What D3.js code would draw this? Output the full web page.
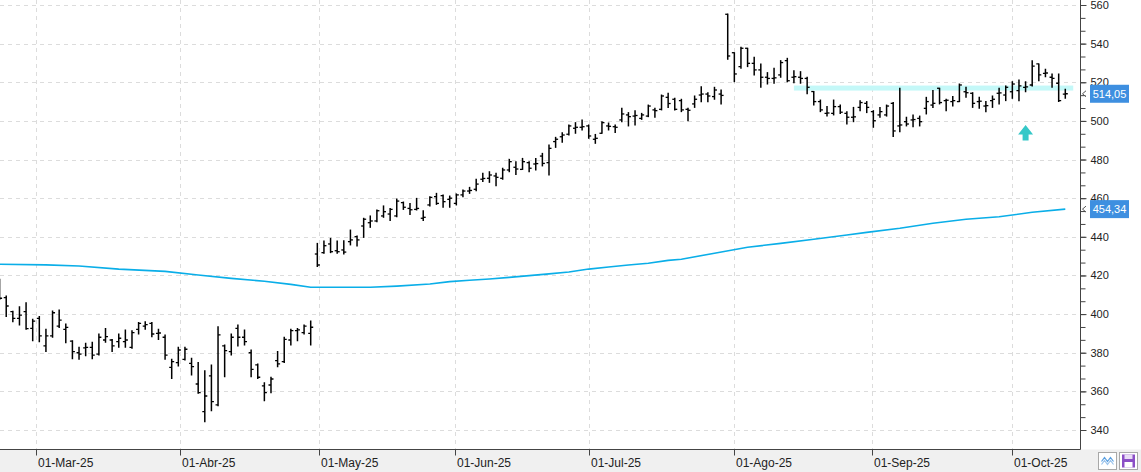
<!DOCTYPE html>
<html>
<head>
<meta charset="utf-8">
<script src="https://cdn.jsdelivr.net/npm/d3@7"></script>
<style>
  body { margin: 0; background: #fff; }
  svg { display: block; font-family: 'Liberation Sans', Arial, sans-serif; }
</style>
</head>
<body>
<svg width="1141" height="472"></svg>
<script>
/* global d3 */
// daily bars, 21-Feb-25 .. 13-Oct-25 (one entry per trading session)
var open = [
  416.0, 408.5, 401.3, 397.8, 401.3, 392.6, 397.8, 383.5, 388.7, 393.8,
  392.1, 386.0, 380.0, 382.5, 382.8, 379.3, 386.6, 386.6, 385.7, 385.7,
  382.8, 392.1, 393.8, 395.2, 390.0, 388.0, 372.4, 374.9, 376.6, 374.5,
  363.8, 349.5, 368.0, 353.0, 383.5, 380.6, 392.6, 388.0, 380.0, 373.7,
  362.8, 363.3, 375.9, 375.4, 386.6, 391.4, 390.4, 390.0, 431.1, 431.8,
  436.3, 432.8, 433.2, 437.5, 440.1, 445.6, 447.3, 448.2, 450.8, 451.8,
  450.8, 457.7, 454.7, 454.2, 449.6, 456.5, 460.8, 461.3, 459.4, 457.3,
  461.7, 463.7, 464.6, 469.8, 470.3, 471.5, 470.3, 474.6, 476.0, 474.9,
  478.4, 477.7, 481.8, 478.4, 489.3, 491.8, 493.1, 496.2, 496.7, 497.4,
  490.5, 493.6, 497.4, 497.0, 500.5, 503.1, 502.5, 501.3, 502.5, 505.7,
  506.0, 512.2, 511.2, 510.5, 506.0, 508.8, 513.4, 513.9, 512.6, 513.9,
  555.2, 535.3, 528.1, 537.6, 529.8, 526.4, 522.6, 522.0, 523.8, 531.2,
  522.6, 522.6, 522.0, 515.2, 510.0, 503.9, 503.9, 507.4, 503.9, 501.9,
  507.0, 509.1, 504.8, 503.1, 503.1, 509.1, 497.4, 499.6, 500.5, 501.3,
  506.5, 508.2, 516.9, 510.5, 510.0, 510.0, 515.1, 514.3, 510.0, 507.7,
  510.5, 514.3, 513.4, 515.1, 515.7, 517.4, 518.6, 529.5, 524.6, 522.6,
  519.5, 513.9
]
var high = [
  418.0, 409.4, 401.5, 403.8, 405.9, 397.3, 398.7, 392.1, 401.6, 402.1,
  394.9, 386.2, 382.8, 384.9, 385.4, 389.7, 392.6, 386.9, 389.7, 391.8,
  391.4, 395.6, 396.1, 395.6, 392.1, 389.2, 376.6, 382.8, 382.8, 377.1,
  374.9, 370.7, 373.7, 393.5, 384.0, 389.7, 394.4, 391.8, 381.4, 374.2,
  364.5, 367.3, 380.6, 388.0, 392.1, 392.6, 394.4, 396.4, 436.6, 437.8,
  439.2, 437.8, 438.0, 443.5, 440.4, 449.6, 450.8, 453.9, 456.0, 454.7,
  459.6, 458.0, 457.3, 459.9, 453.5, 460.8, 462.5, 461.7, 461.1, 462.2,
  464.2, 465.6, 469.8, 472.9, 473.7, 472.9, 475.5, 480.1, 478.9, 480.6,
  478.9, 480.6, 483.2, 487.5, 491.5, 493.9, 497.9, 499.1, 500.5, 497.9,
  493.0, 499.6, 498.9, 497.9, 506.5, 504.3, 505.3, 503.9, 508.2, 506.5,
  513.4, 514.3, 511.7, 511.2, 506.5, 512.9, 517.7, 514.6, 517.4, 516.0,
  555.3, 535.3, 538.1, 537.6, 532.9, 529.5, 525.0, 527.2, 531.2, 532.4,
  526.0, 525.5, 522.6, 515.2, 510.8, 507.4, 510.8, 508.2, 504.8, 507.0,
  510.5, 510.0, 505.3, 507.0, 508.2, 509.5, 516.9, 501.9, 503.1, 502.5,
  512.2, 515.7, 516.9, 511.2, 512.6, 519.1, 517.4, 514.6, 512.2, 510.0,
  512.9, 516.9, 518.1, 520.3, 521.2, 520.3, 531.2, 529.5, 526.7, 524.3,
  524.3, 516.4
]
var low = [
  407.6, 398.7, 396.1, 394.4, 392.1, 386.2, 385.7, 380.6, 388.0, 393.1,
  385.2, 376.9, 376.6, 378.5, 376.9, 378.8, 385.4, 380.6, 382.8, 382.8,
  382.3, 389.7, 392.1, 388.3, 386.9, 376.6, 366.7, 373.1, 376.2, 368.5,
  359.0, 344.3, 350.0, 352.6, 367.6, 378.8, 383.5, 384.0, 367.6, 366.7,
  355.2, 359.3, 372.8, 374.9, 384.0, 386.2, 389.7, 384.0, 424.6, 431.5,
  431.8, 431.5, 431.1, 435.8, 435.3, 439.7, 444.9, 447.8, 450.1, 448.4,
  450.4, 454.2, 451.6, 453.9, 448.4, 456.0, 456.8, 455.3, 455.3, 456.5,
  460.8, 462.5, 463.9, 468.6, 468.2, 466.5, 469.8, 473.7, 472.3, 474.9,
  473.7, 474.6, 476.7, 472.0, 486.3, 488.9, 492.7, 493.6, 495.3, 491.0,
  488.4, 493.6, 495.3, 494.0, 499.6, 497.4, 497.9, 500.8, 502.2, 501.9,
  505.7, 507.0, 505.7, 504.8, 500.1, 507.0, 509.9, 509.9, 511.2, 508.8,
  531.9, 520.3, 527.2, 528.1, 523.8, 517.4, 519.1, 519.5, 522.6, 520.3,
  519.8, 519.5, 514.0, 508.2, 504.8, 502.5, 503.1, 503.9, 498.4, 499.6,
  505.3, 504.3, 496.7, 501.9, 502.5, 491.9, 494.4, 497.4, 497.0, 497.4,
  503.6, 507.0, 508.8, 505.3, 507.7, 510.0, 512.2, 507.0, 506.5, 504.8,
  507.0, 508.8, 510.5, 511.7, 510.5, 515.1, 518.1, 520.8, 522.9, 517.4,
  510.0, 511.7
]
var close = [
  408.2, 404.2, 397.8, 399.5, 392.5, 396.4, 388.7, 388.7, 400.7, 396.9,
  393.1, 380.6, 379.3, 382.8, 378.8, 388.0, 388.3, 383.5, 387.5, 386.6,
  390.4, 395.2, 394.5, 389.7, 390.2, 378.8, 375.4, 381.4, 381.8, 372.8,
  359.3, 357.6, 354.7, 389.2, 381.1, 388.0, 388.0, 385.7, 371.4, 367.3,
  359.3, 366.4, 374.2, 386.9, 391.4, 391.8, 393.8, 393.2, 425.4, 435.4,
  432.3, 432.3, 432.1, 438.4, 438.4, 449.1, 448.2, 453.5, 453.0, 454.2,
  458.5, 455.3, 454.0, 454.7, 450.1, 460.4, 457.3, 458.2, 460.0, 461.7,
  463.7, 464.0, 467.3, 470.2, 472.0, 470.8, 474.6, 478.9, 475.1, 478.9,
  475.5, 477.9, 478.0, 485.8, 490.5, 492.7, 497.4, 496.7, 497.0, 492.2,
  491.0, 499.1, 497.2, 496.7, 503.6, 502.2, 502.8, 503.1, 507.7, 505.3,
  512.9, 509.0, 506.0, 505.7, 505.5, 511.2, 513.9, 512.9, 516.0, 513.2,
  533.6, 524.3, 537.6, 529.8, 526.4, 522.6, 522.0, 522.3, 530.2, 520.8,
  522.9, 522.0, 517.4, 510.0, 505.7, 504.1, 507.4, 504.5, 501.9, 502.1,
  509.5, 507.0, 500.1, 504.8, 507.7, 494.8, 497.9, 498.4, 500.7, 499.6,
  510.0, 509.1, 509.5, 510.7, 510.5, 518.6, 514.6, 509.1, 510.2, 507.9,
  511.2, 514.5, 517.4, 519.1, 518.1, 517.6, 528.4, 523.8, 524.8, 522.0,
  510.5, 514.05
]

var smaIdx = [0, 7, 12, 18, 25, 30, 35, 40, 44, 47, 56, 60, 65, 68, 71, 74, 77, 80, 83,
  86, 89, 92, 95, 98, 101, 103, 108, 113, 118, 123, 128, 131, 136, 141, 146, 151, 156, 161]
var smaVal = [425.8, 425.5, 424.9, 423.3, 422.1, 420.2, 418.5, 417.0, 415.4, 413.9, 413.9,
  414.5, 415.6, 416.8, 417.5, 418.2, 419.0, 419.9, 420.8, 421.8, 423.3, 424.4, 425.4,
  426.3, 427.8, 428.4, 431.5, 434.6, 436.6, 438.7, 440.9, 442.3, 444.4, 447.0, 449.1,
  450.4, 452.7, 454.34]

// month ticks (session position)
var monthLabels = ['01-Mar-25', '01-Abr-25', '01-May-25', '01-Jun-25', '01-Jul-25', '01-Ago-25', '01-Sep-25', '01-Oct-25']
var monthPos = [5.5, 27.2, 48.2, 68.8, 89.1, 111, 131.85, 153]

var yTicks = [340, 360, 380, 400, 420, 440, 460, 480, 500, 520, 540, 560]

// resistance zone and buy signal
var zoneFrom = 120
var zoneTo = 162.2
var zoneLo = 515.7
var zoneHi = 518.3
var signalIdx = 155
var signalPrice = 497.9

var lastClose = 514.05
var lastSma = 454.34

var svg = d3.select('svg')
var W = +svg.attr('width')
var H = +svg.attr('height')
var plotRight = 1080.5
var plotBottom = 449.5

var barC = '#000'
var smaC = '#0aaee8'
var gridC = '#dcdcdc'
var axisC = '#444'
var textC = '#222'
var tagC = '#3e8fe0'

var x = d3.scaleLinear().domain([0, 161]).range([-0.4, 1065.3])
var y = d3.scaleLinear().domain([340, 560]).range([430, 5])

var clip = svg.append('defs').append('clipPath').attr('id', 'plot')
clip.append('rect').attr('x', 0).attr('y', 0).attr('width', plotRight).attr('height', plotBottom)

// background strips
svg.append('rect').attr('x', 0).attr('y', plotBottom).attr('width', W).attr('height', H - plotBottom).attr('fill', '#f0f0f0')

// grid
var grid = svg.append('g').attr('class', 'grid')
grid.selectAll('line.h')
  .data(yTicks)
  .enter().append('line')
    .attr('x1', 0).attr('x2', plotRight)
    .attr('y1', d => Math.round(y(d)) + 0.5).attr('y2', d => Math.round(y(d)) + 0.5)
    .attr('stroke', gridC).attr('stroke-dasharray', '4,4')
grid.selectAll('line.v')
  .data(monthPos)
  .enter().append('line')
    .attr('x1', d => Math.round(x(d)) + 0.5).attr('x2', d => Math.round(x(d)) + 0.5)
    .attr('y1', 0).attr('y2', plotBottom)
    .attr('stroke', gridC).attr('stroke-dasharray', '4,4')

var plot = svg.append('g').attr('clip-path', 'url(#plot)')

// zone band
plot.append('rect')
  .attr('x', x(zoneFrom)).attr('width', x(zoneTo) - x(zoneFrom))
  .attr('y', y(zoneHi)).attr('height', y(zoneLo) - y(zoneHi))
  .attr('fill', '#c4f8f8')

// moving average
var smaPts = smaIdx.map((d, i) => [d, smaVal[i]])
plot.append('path')
  .datum(smaPts)
  .attr('fill', 'none')
  .attr('stroke', smaC)
  .attr('stroke-width', 1.6)
  .attr('d', d3.line().x(d => x(d[0])).y(d => y(d[1])))

// OHLC bars
var bars = plot.append('g').attr('class', 'bars')
  .selectAll('g')
  .data(d3.range(open.length))
  .enter().append('g')
bars.append('line')
  .attr('x1', i => x(i)).attr('x2', i => x(i))
  .attr('y1', i => y(high[i]) - 0.5).attr('y2', i => y(low[i]) + 0.5)
  .attr('stroke', barC).attr('stroke-width', 1.5)
bars.append('line')
  .attr('x1', i => x(i) - 2.5).attr('x2', i => x(i))
  .attr('y1', i => y(open[i])).attr('y2', i => y(open[i]))
  .attr('stroke', barC).attr('stroke-width', 1.3)
bars.append('line')
  .attr('x1', i => x(i)).attr('x2', i => x(i) + 2.5)
  .attr('y1', i => y(close[i])).attr('y2', i => y(close[i]))
  .attr('stroke', barC).attr('stroke-width', 1.3)

// signal arrow
var ax = x(signalIdx)
var ay = y(signalPrice)
plot.append('path')
  .attr('d', 'M' + ax + ',' + ay + 'l7.5,9.5h-4.5v6h-6v-6h-4.5z')
  .attr('fill', '#35c8c8')

// right axis
var yAxis = svg.append('g')
  .attr('transform', 'translate(' + plotRight + ',0)')
  .call(d3.axisRight(y).tickValues(yTicks).tickSize(6).tickPadding(4))
yAxis.select('.domain').remove()
yAxis.selectAll('line').attr('stroke', axisC)
yAxis.selectAll('text').attr('fill', textC).style('font-size', '11px')
var minor = svg.append('g')
  .attr('transform', 'translate(' + plotRight + ',0)')
  .call(d3.axisRight(y).tickValues(d3.range(340, 565, 20 / 3)).tickSize(5).tickFormat(''))
minor.select('.domain').remove()
minor.selectAll('line').attr('stroke', axisC)
svg.append('line')
  .attr('x1', plotRight).attr('x2', plotRight).attr('y1', 0).attr('y2', plotBottom)
  .attr('stroke', axisC)

// bottom axis
svg.append('line')
  .attr('x1', 0).attr('x2', plotRight).attr('y1', plotBottom).attr('y2', plotBottom)
  .attr('stroke', axisC)
var xt = svg.append('g').selectAll('g')
  .data(monthPos)
  .enter().append('g')
    .attr('transform', d => 'translate(' + (Math.round(x(d)) + 0.5) + ',' + plotBottom + ')')
xt.append('line').attr('y1', 0).attr('y2', 6).attr('stroke', axisC)
xt.append('text')
  .attr('x', 1.5).attr('y', 17)
  .attr('fill', textC)
  .style('font-size', '12px')
  .text((d, i) => monthLabels[i])

// last value tags
function tag (v, c) {
  var ty = y(v)
  svg.append('path')
    .attr('d', 'M' + (plotRight + 5.5) + ',' + (ty - 3) + 'l-3.5,3l3.5,3')
    .attr('fill', 'none').attr('stroke', '#555')
  svg.append('rect')
    .attr('x', 1090).attr('y', ty - 9).attr('width', 39).attr('height', 18)
    .attr('fill', c)
  svg.append('text')
    .attr('x', 1109.5).attr('y', ty + 4)
    .attr('text-anchor', 'middle')
    .attr('fill', '#fff')
    .style('font-size', '11px')
    .text(d3.format('.2f')(v).replace('.', ','))
}
tag(lastClose, tagC)
tag(lastSma, tagC)

// little toolbar buttons, bottom right
var b1 = svg.append('g').attr('transform', 'translate(1098.5,452.5)')
b1.append('rect').attr('width', 18).attr('height', 17).attr('fill', '#fff').attr('stroke', '#a8a8a8')
b1.append('path').attr('d', 'M3,9l3,-4l3,4l3,-4l3,4').attr('fill', 'none').attr('stroke', '#5a9fe0').attr('stroke-width', 1.2)
b1.append('path').attr('d', 'M3,12l3,-4l3,4l3,-4l3,4').attr('fill', 'none').attr('stroke', '#9cc4ec').attr('stroke-width', 1.2)
var b2 = svg.append('g').attr('transform', 'translate(1119.5,452.5)')
b2.append('rect').attr('width', 18).attr('height', 17).attr('fill', '#fff').attr('stroke', '#a8a8a8')
b2.append('rect').attr('x', 2.5).attr('y', 2).attr('width', 13).attr('height', 13).attr('fill', '#8b4fc6')
b2.append('rect').attr('x', 5).attr('y', 2).attr('width', 8).attr('height', 4.5).attr('fill', '#e8dcf5')
b2.append('rect').attr('x', 5).attr('y', 9.5).attr('width', 8).attr('height', 5.5).attr('fill', '#fff')
</script>
</body>
</html>
